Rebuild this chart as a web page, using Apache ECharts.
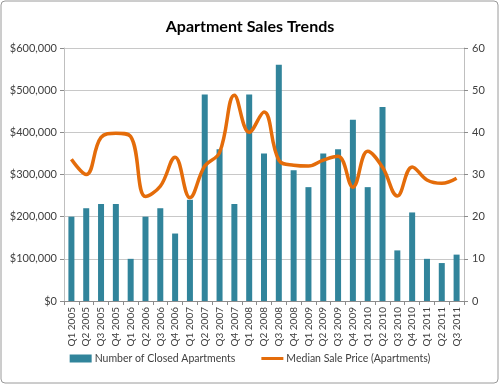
<!DOCTYPE html>
<html><head><meta charset="utf-8">
<script src="https://cdn.jsdelivr.net/npm/echarts@6/dist/echarts.min.js"></script>
<style>html,body{margin:0;padding:0;background:#fff}#c{width:500px;height:385px}</style>
</head><body><div id="c"></div>
<script>
const categories = ['Q1 2005','Q2 2005','Q3 2005','Q4 2005','Q1 2006','Q2 2006','Q3 2006','Q4 2006','Q1 2007','Q2 2007','Q3 2007','Q4 2007','Q1 2008','Q2 2008','Q3 2008','Q4 2008','Q1 2009','Q2 2009','Q3 2009','Q4 2009','Q1 2010','Q2 2010','Q3 2010','Q4 2010','Q1 2011','Q2 2011','Q3 2011'];
const closedApartments = [20,22,23,23,10,20,22,16,24,49,36,23,49,35,56,31,27,35,36,43,27,46,12,21,10,9,11];
const medianPrice = [336000,300000,388000,398000,390000,248000,272000,341000,245000,320000,352000,488000,400000,448000,334000,322000,320000,334000,343000,270000,355000,317000,249000,318000,287000,279000,291000];
const priceTicks = [0,100000,200000,300000,400000,500000,600000];
const countTicks = [0,10,20,30,40,50,60];

const font = 'Lato, "Open Sans", sans-serif';
const chart = echarts.init(document.getElementById('c'), null, {renderer:'canvas'});
chart.setOption({
  animation:false,
  backgroundColor:'#fff',
  graphic:[{type:'rect',shape:{x:1,y:1,width:497,height:382,r:4},style:{fill:'none',stroke:'#9a9a9a',lineWidth:1},silent:true}],
  title:{text:'Apartment Sales Trends',left:'center',top:14,textStyle:{fontFamily:font,fontSize:16,fontWeight:'bold',color:'#000'}},
  grid:{left:64,right:36,top:48,bottom:84},
  legend:{bottom:16,left:'center',itemGap:26,itemWidth:22,itemHeight:8,textStyle:{fontFamily:font,fontSize:10.5,color:'#404040',padding:[0,0,0,-2]},
    data:[{name:'Number of Closed Apartments',icon:'rect'},{name:'Median Sale Price (Apartments)',icon:'path://M0,0 L22,0 L22,3 L0,3 Z'}]},
  xAxis:{type:'category',data:categories,boundaryGap:true,
    axisLine:{lineStyle:{color:'#8c8c8c'}},axisTick:{show:true,length:4,lineStyle:{color:'#8c8c8c'}},
    axisLabel:{rotate:90,fontFamily:font,fontSize:10,color:'#404040',margin:6,interval:0}},
  yAxis:[
    {type:'value',min:0,max:600000,interval:100000,position:'left',
     axisLine:{show:true,lineStyle:{color:'#bfbfbf'}},axisTick:{show:true,length:4,lineStyle:{color:'#8c8c8c'}},
     splitLine:{lineStyle:{color:'#c8c8c8'}},
     axisLabel:{fontFamily:font,fontSize:11,color:'#404040',margin:7,formatter:v=>'$'+v.toLocaleString('en-US')}},
    {type:'value',min:0,max:60,interval:10,position:'right',
     axisLine:{show:true,lineStyle:{color:'#bfbfbf'}},axisTick:{show:true,length:4,lineStyle:{color:'#8c8c8c'}},
     splitLine:{show:false},
     axisLabel:{fontFamily:font,fontSize:11,color:'#404040',margin:8}}
  ],
  series:[
    {name:'Number of Closed Apartments',type:'bar',yAxisIndex:1,data:closedApartments,barWidth:6,
     itemStyle:{color:'#31849B'}},
    {name:'Median Sale Price (Apartments)',type:'line',yAxisIndex:0,data:medianPrice,smooth:0.4,
     symbol:'none',lineStyle:{color:'#E46C0A',width:3.5},itemStyle:{color:'#E46C0A'},z:5}
  ]
});
</script></body></html>
